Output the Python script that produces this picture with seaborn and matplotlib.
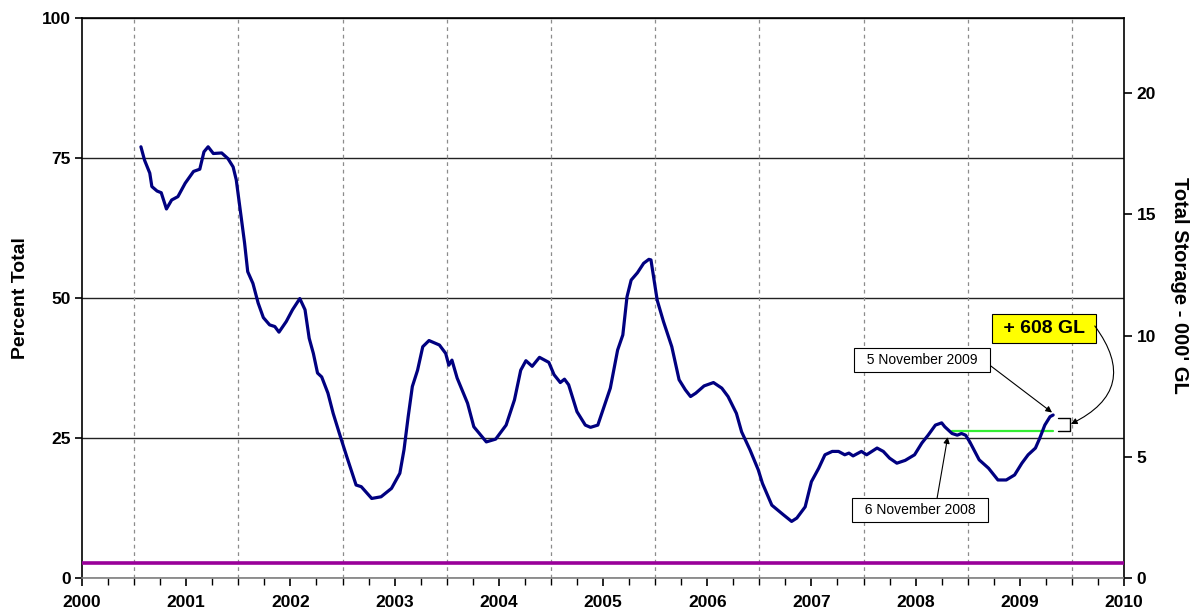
import numpy as np
import pandas as pd
import seaborn as sns
import matplotlib.pyplot as plt

# storage as percent of total capacity (decimal years)
years = [2000.565, 2000.60, 2000.65, 2000.67, 2000.72, 2000.76, 2000.81, 2000.86, 2000.92, 2000.99,
         2001.07, 2001.13, 2001.17, 2001.21, 2001.26, 2001.34, 2001.40, 2001.45, 2001.48, 2001.51,
         2001.56, 2001.59, 2001.64, 2001.69, 2001.74, 2001.80, 2001.85, 2001.89, 2001.96, 2002.02,
         2002.09, 2002.14, 2002.18, 2002.22, 2002.26, 2002.30, 2002.36, 2002.41, 2002.47, 2002.54,
         2002.63, 2002.68, 2002.78, 2002.87, 2002.97, 2003.05, 2003.09, 2003.13, 2003.17, 2003.22,
         2003.27, 2003.33, 2003.43, 2003.49, 2003.52, 2003.55, 2003.60, 2003.70, 2003.76, 2003.88,
         2003.97, 2004.07, 2004.15, 2004.21, 2004.26, 2004.32, 2004.39, 2004.48, 2004.53, 2004.59,
         2004.63, 2004.67, 2004.75, 2004.83, 2004.88, 2004.95, 2005.01, 2005.07, 2005.14, 2005.19,
         2005.23, 2005.27, 2005.33, 2005.39, 2005.44, 2005.46, 2005.52, 2005.58, 2005.66, 2005.73,
         2005.79, 2005.84, 2005.89, 2005.97, 2006.06, 2006.14, 2006.20, 2006.28, 2006.33, 2006.41,
         2006.49, 2006.53, 2006.62, 2006.73, 2006.81, 2006.86, 2006.94, 2007.00, 2007.07, 2007.13,
         2007.20, 2007.26, 2007.32, 2007.36, 2007.40, 2007.45, 2007.48, 2007.53, 2007.58, 2007.63,
         2007.69, 2007.75, 2007.82, 2007.90, 2007.99, 2008.06, 2008.12, 2008.19, 2008.25, 2008.28,
         2008.35, 2008.40, 2008.44, 2008.48, 2008.52, 2008.61, 2008.70, 2008.79, 2008.87, 2008.95,
         2009.02, 2009.08, 2009.15, 2009.19, 2009.24, 2009.29, 2009.32]
percent = [77.0, 74.6, 72.3, 69.9, 69.1, 68.8, 65.9, 67.5, 68.1, 70.5,
           72.6, 73.0, 76.1, 77.0, 75.8, 75.9, 74.9, 73.4, 71.1, 66.9,
           59.8, 54.7, 52.6, 49.1, 46.5, 45.2, 44.9, 43.9, 45.8, 47.9,
           49.9, 47.9, 42.8, 40.1, 36.6, 35.9, 33.0, 29.4, 25.8, 21.7,
           16.6, 16.3, 14.2, 14.5, 16.0, 18.7, 22.9, 28.8, 34.2, 37.1,
           41.3, 42.4, 41.6, 40.1, 38.0, 38.9, 35.7, 31.2, 27.0, 24.3,
           24.8, 27.3, 31.8, 37.1, 38.8, 37.8, 39.4, 38.5, 36.3, 34.9,
           35.5, 34.5, 29.7, 27.3, 26.9, 27.3, 30.6, 33.9, 40.7, 43.4,
           50.2, 53.2, 54.5, 56.2, 56.9, 56.8, 49.6, 45.8, 41.3, 35.4,
           33.6, 32.4, 33.0, 34.3, 34.9, 33.9, 32.4, 29.4, 26.1, 22.9,
           19.3, 16.9, 13.0, 11.3, 10.1, 10.7, 12.7, 17.2, 19.6, 22.0,
           22.6, 22.6, 22.0, 22.3, 21.8, 22.3, 22.6, 22.0, 22.6, 23.2,
           22.6, 21.4, 20.5, 21.0, 22.0, 24.1, 25.5, 27.3, 27.7, 27.0,
           25.8, 25.5, 25.8, 25.5, 24.3, 21.1, 19.6, 17.5, 17.5, 18.4,
           20.5, 22.0, 23.2, 24.9, 27.3, 28.8, 29.1]

# flat reference line near the bottom
base_years = [2000, 2010]
base_percent = [2.68, 2.68]

# level a year earlier, carried across to the latest reading
compare_years = [2008.35, 2009.32]
compare_percent = [26.25, 26.25]

total_capacity = 23.1  # thousand GL at 100 %

df = pd.DataFrame({'Year': years, 'Percent': percent})
base_df = pd.DataFrame({'Year': base_years, 'Percent': base_percent})
compare_df = pd.DataFrame({'Year': compare_years, 'Percent': compare_percent})

sns.set_style('white')
plt.rcParams['font.family'] = ['Liberation Sans', 'DejaVu Sans']
plt.rcParams['text.color'] = 'black'
plt.rcParams['axes.labelcolor'] = 'black'
plt.rcParams['xtick.color'] = 'black'
plt.rcParams['ytick.color'] = 'black'

fig = plt.figure(figsize=(11.96, 6.10), dpi=100)
ax = fig.add_axes([0.0686, 0.0525, 0.8712, 0.918])

# vertical dashed grid at mid-year
for yr in np.arange(2000.5, 2010, 1):
    ax.axvline(yr, color='#8c8c8c', ls=(0, (3, 3)), lw=0.9, zorder=1)

sns.lineplot(data=base_df, x='Year', y='Percent', color='#990099', lw=2.6, ax=ax, zorder=3)
sns.lineplot(data=df, x='Year', y='Percent', color='#000080', lw=2.3, ax=ax, zorder=4, sort=False)
sns.lineplot(data=compare_df, x='Year', y='Percent', color='#33ee33', lw=1.6, ax=ax, zorder=3)

ax.set_xlim(2000, 2010)
ax.set_ylim(0, 100)
ax.set_yticks([0, 25, 50, 75, 100])
ax.set_xticks(range(2000, 2011))
ax.set_xticks(np.arange(2000, 2010.01, 0.25), minor=True)
ax.yaxis.grid(True, color='#222222', lw=1.0, zorder=0)
ax.set_axisbelow(True)

ax.tick_params(axis='y', which='major', direction='out', length=5, width=1.2, pad=3,
               labelsize=12.5, left=True)
ax.tick_params(axis='x', which='major', direction='out', length=6, width=1.2, pad=6,
               labelsize=12.5, bottom=True)
ax.tick_params(axis='x', which='minor', direction='out', length=5, width=1.0, bottom=True)
for lab in ax.get_xticklabels() + ax.get_yticklabels():
    lab.set_fontweight('bold')

ax.set_xlabel('')
ax.set_ylabel('Percent Total', fontsize=14, fontweight='bold', labelpad=9)

for side in ['left', 'right', 'top']:
    ax.spines[side].set_color('black')
    ax.spines[side].set_linewidth(1.2)
ax.spines['bottom'].set_color('#808080')
ax.spines['bottom'].set_linewidth(1.2)

# right axis in thousand GL
ax2 = ax.twinx()
ax2.set_ylim(0, total_capacity)
ax2.set_yticks([0, 5, 10, 15, 20])
ax2.tick_params(axis='y', direction='out', length=6, width=1.2, pad=3, labelsize=12.5, right=True)
for lab in ax2.get_yticklabels():
    lab.set_fontweight('bold')
ax2.set_ylabel("Total Storage - 000' GL", fontsize=14.5, fontweight='bold', rotation=270,
               ha='center', va='center')
ax2.yaxis.set_label_coords(1.0537, 0.523)
for sp in ax2.spines.values():
    sp.set_visible(False)
ax2.grid(False)

# annotations
box = dict(boxstyle='square,pad=0.35', fc='white', ec='black', lw=0.8)
arrow = dict(arrowstyle='-|>', color='black', lw=0.8, mutation_scale=9, shrinkA=0, shrinkB=1)

ax.annotate('  5 November 2009  ', xy=(years[-1], percent[-1] + 0.3), xytext=(2008.06, 38.9),
            fontsize=10, ha='center', va='center', bbox=box,
            arrowprops=dict(arrow, relpos=(1.0, 0.4)), zorder=6)
ax.annotate('  6 November 2008  ', xy=(2008.31, 25.4), xytext=(2008.04, 12.1),
            fontsize=10, ha='center', va='center', bbox=box,
            arrowprops=dict(arrow, relpos=(0.63, 1.0)), zorder=6)

# bracket between last year's level and the latest reading
ax.annotate('', xy=(2009.37, compare_percent[-1]), xytext=(2009.37, 28.6),
            arrowprops=dict(arrowstyle='-', color='black', lw=1.0, shrinkA=0, shrinkB=0,
                            connectionstyle='bar,fraction=-0.9'), zorder=6)

ax.text(2009.23, 44.6, ' + 608 GL ', fontsize=14, fontweight='bold', ha='center', va='center',
        bbox=dict(boxstyle='square,pad=0.3', fc='#ffff00', ec='black', lw=0.8), zorder=6)
ax.annotate('', xy=(2009.49, 27.5), xytext=(2009.72, 45.0),
            arrowprops=dict(arrowstyle='-|>', color='black', lw=0.8, mutation_scale=9,
                            shrinkA=0, shrinkB=0, connectionstyle='arc3,rad=-0.6'), zorder=6)

plt.savefig('out.png', dpi=100)
